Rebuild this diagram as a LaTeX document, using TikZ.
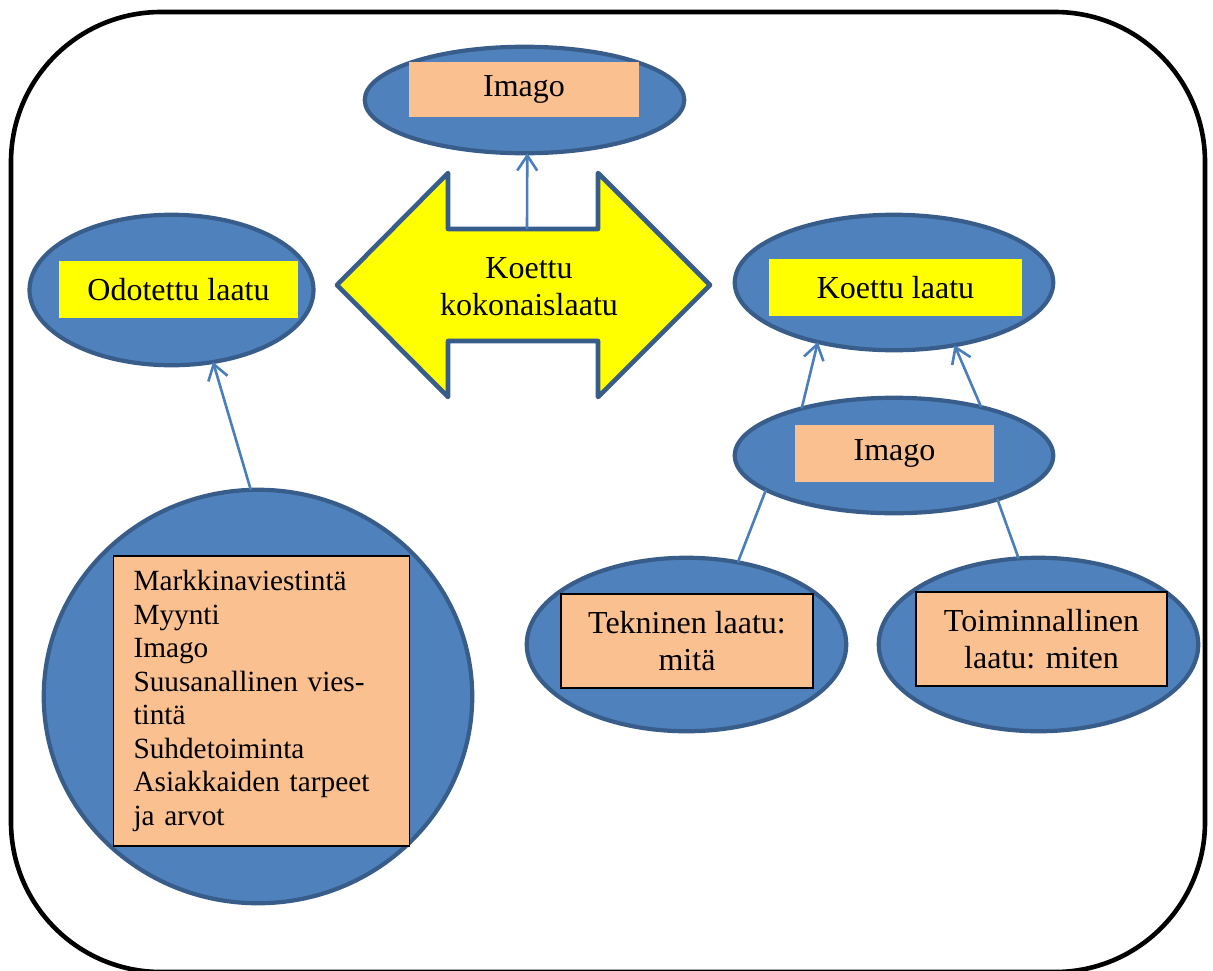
\documentclass[tikz,border=0pt]{standalone}
\usepackage{fontspec}
\setmainfont{Liberation Serif}
\usetikzlibrary{shapes.geometric,arrows.meta}

\definecolor{ovalfill}{HTML}{4F81BD}
\definecolor{ovalline}{HTML}{385D8A}
\definecolor{peachfill}{HTML}{FAC090}
\definecolor{linkcol}{HTML}{4A7EBB}
\definecolor{signyellow}{HTML}{FFFF00}

\tikzset{
  oval/.style={ellipse, draw=ovalline, fill=ovalfill, line width=4.2pt,
    inner sep=0pt, outer sep=0pt},
  tagbox/.style={rectangle, inner sep=0pt, outer sep=0pt, align=center},
  peachtag/.style={tagbox, fill=peachfill},
  peachframed/.style={tagbox, fill=peachfill, draw=black, line width=1.6pt},
  yellowtag/.style={tagbox, fill=signyellow},
  link/.style={draw=linkcol, line width=2.6pt},
  linkarrow/.style={link, -{Straight Barb[length=15pt,width=20pt]}},
}

\begin{document}
\begin{tikzpicture}[x=1pt, y=-1pt, font=\fontsize{32}{36.8}\selectfont]
\useasboundingbox (0,0) rectangle (1213,970);

% outer frame
\draw[line width=4.6pt, rounded corners=150pt] (11,12) rectangle (1205,972);

% top: image
\node[oval, minimum width=319.5pt, minimum height=106.5pt] (imagoTop) at (524.5,100) {};
\node[peachtag, minimum width=230pt, minimum height=55pt] (imagoTopLbl) at (524,89.5) {Imago};

% double arrow: overall perceived quality
\draw[draw=ovalline, fill=signyellow, line width=4.6pt, line join=round]
  (337,285) -- (448,173) -- (448,229) -- (598,229) -- (598,173) -- (710,285)
  -- (598,397) -- (598,341) -- (448,341) -- (448,397) -- cycle;
\node[align=center, inner sep=0pt] (koko) at (529,287) {Koettu\\kokonaislaatu};
\coordinate (shaftTop) at (527,229);

% expected quality
\node[oval, minimum width=284pt, minimum height=150.5pt] (odo) at (171.5,290) {};
\node[yellowtag, minimum width=239pt, minimum height=57pt] (odoLbl) at (178.5,289.5) {Odotettu laatu};

% experienced quality
\node[oval, minimum width=318.5pt, minimum height=135.5pt] (koettu) at (894,282.5) {};
\node[yellowtag, minimum width=253pt, minimum height=57pt] (koettuLbl) at (895.5,287.5) {Koettu laatu};

% image (middle right)
\node[oval, minimum width=318.5pt, minimum height=115.5pt] (imagoMid) at (894,455.5) {};
\node[peachtag, minimum width=199pt, minimum height=57pt] (imagoMidLbl) at (894.5,453.5) {Imago};

% technical and functional quality
\node[oval, minimum width=319.5pt, minimum height=173.5pt] (tek) at (686.5,644.5) {};
\node[peachframed, minimum width=252pt, minimum height=94pt] (tekLbl) at (687,641) {Tekninen laatu:\\mitä};

\node[oval, minimum width=319.5pt, minimum height=173.5pt] (toim) at (1038.5,644.5) {};
\node[peachframed, minimum width=251pt, minimum height=94pt] (toimLbl) at (1041.5,639) {Toiminnallinen\\laatu: miten};

% factors behind expectations
\node[oval, minimum width=428.5pt, minimum height=413.5pt] (big) at (258,696.5) {};
\node[peachframed, align=left, text width=256pt, inner xsep=20pt, minimum height=290pt,
  font=\fontsize{29.3}{33.5}\selectfont] (bigLbl) at (261.5,701)
  {Markkinaviestintä\\Myynti\\Imago\\Suusanallinen vies-\\tintä\\Suhdetoiminta\\Asiakkaiden tarpeet\\ja arvot};

% connectors
\draw[linkarrow] (shaftTop) -- (imagoTop.-87.4);
\draw[linkarrow] (big.92.7) -- (odo.-60);
\draw[linkarrow] (imagoMid.153.9) -- (koettu.-142.8);
\draw[linkarrow] (imagoMid.29.1) -- (koettu.-46.2);
\draw[link] (imagoMid.-165.9) -- (tek.58.2);
\draw[link] (imagoMid.-23.2) -- (toim.103.1);
\end{tikzpicture}
\end{document}
